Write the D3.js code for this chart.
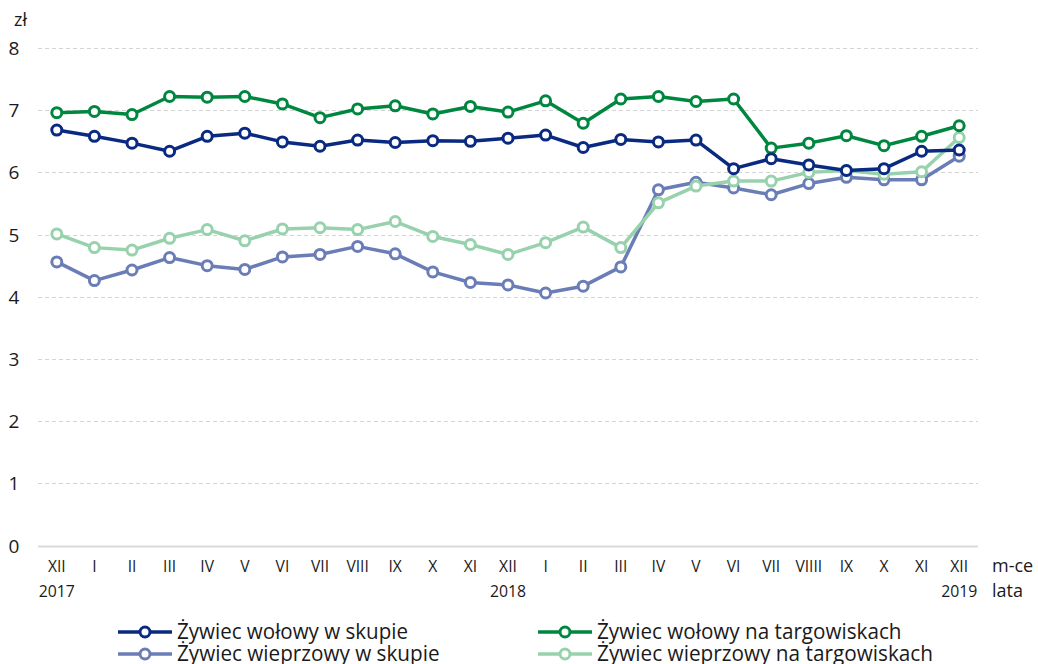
<!DOCTYPE html>
<html>
<head>
<meta charset="utf-8">
<script src="https://cdn.jsdelivr.net/npm/d3@7"></script>
<style>
  body { margin: 0; background: #fff; }
  text { font-family: "Open Sans", "Noto Sans", sans-serif; fill: #1a1a1a; }
</style>
</head>
<body>
<div id="chart"></div>
<script>
// months XII 2017 .. XII 2019
var months = ["XII", "I", "II", "III", "IV", "V", "VI", "VII", "VIII", "IX", "X", "XI", "XII",
              "I", "II", "III", "IV", "V", "VI", "VII", "VIIII", "IX", "X", "XI", "XII"];
var years = {0: "2017", 12: "2018", 24: "2019"};
var yTicks = [0, 1, 2, 3, 4, 5, 6, 7, 8];

var seriesNames = ["Żywiec wołowy w skupie", "Żywiec wołowy na targowiskach",
                   "Żywiec wieprzowy w skupie", "Żywiec wieprzowy na targowiskach"];

var wolowySkup = [6.68, 6.58, 6.47, 6.34, 6.58, 6.63, 6.49, 6.42, 6.52, 6.48, 6.51, 6.50, 6.55,
                  6.60, 6.40, 6.53, 6.49, 6.52, 6.06, 6.22, 6.12, 6.03, 6.06, 6.34, 6.36];
var wolowyTarg = [6.96, 6.98, 6.93, 7.22, 7.21, 7.22, 7.10, 6.88, 7.02, 7.07, 6.94, 7.06, 6.97,
                  7.15, 6.79, 7.18, 7.22, 7.14, 7.18, 6.39, 6.47, 6.59, 6.43, 6.58, 6.75];
var wieprzSkup = [4.56, 4.26, 4.43, 4.63, 4.50, 4.44, 4.64, 4.68, 4.81, 4.69, 4.40, 4.23, 4.19,
                  4.06, 4.17, 4.48, 5.72, 5.84, 5.75, 5.64, 5.82, 5.92, 5.88, 5.88, 6.26];
var wieprzTarg = [5.01, 4.79, 4.75, 4.94, 5.08, 4.90, 5.09, 5.11, 5.08, 5.21, 4.97, 4.84, 4.68,
                  4.87, 5.12, 4.79, 5.51, 5.78, 5.86, 5.86, 6.00, 6.03, 5.97, 6.01, 6.56];

var colors = ["#0a2a82", "#00873f", "#6b7db6", "#97d2ad"];

// order of drawing (back to front)
var series = [
    {name: seriesNames[2], values: wieprzSkup, color: colors[2]},
    {name: seriesNames[3], values: wieprzTarg, color: colors[3]},
    {name: seriesNames[1], values: wolowyTarg, color: colors[1]},
    {name: seriesNames[0], values: wolowySkup, color: colors[0]}
];

var svgWidth = 1038;
var svgHeight = 664;

var svg = d3.select("#chart")
    .append("svg")
    .attr("width", svgWidth)
    .attr("height", svgHeight);

var x = d3.scaleBand()
    .domain(d3.range(months.length))
    .range([38, 978]);

var y = d3.scaleLinear()
    .domain([0, 8])
    .range([545.5, 48]);

var cx = i => x(i) + x.bandwidth() / 2;

// grid lines
svg.append("g").selectAll("line")
    .data(yTicks)
    .enter()
    .append("line")
    .attr("x1", 38)
    .attr("x2", 978)
    .attr("y1", d => Math.round(y(d)) + 0.5)
    .attr("y2", d => Math.round(y(d)) + 0.5)
    .attr("stroke", d => d === 0 ? "#d9d9d9" : "#d4d4d4")
    .attr("stroke-width", d => d === 0 ? 2 : 1)
    .attr("stroke-dasharray", d => d === 0 ? null : "4,3");

// y labels
svg.append("g").selectAll("text")
    .data(yTicks)
    .enter()
    .append("text")
    .attr("x", 14)
    .attr("y", d => y(d) + 7)
    .attr("text-anchor", "middle")
    .attr("font-size", 19)
    .text(d => d);

svg.append("text")
    .attr("x", 14)
    .attr("y", 26)
    .attr("font-size", 18)
    .text("zł");

// x labels
svg.append("g").selectAll("text")
    .data(months)
    .enter()
    .append("text")
    .attr("transform", (d, i) => `translate(${cx(i)}, 572) scale(0.92, 1)`)
    .attr("text-anchor", "middle")
    .attr("font-size", 17)
    .text(d => d);

svg.append("g").selectAll("text")
    .data(Object.keys(years))
    .enter()
    .append("text")
    .attr("transform", d => `translate(${cx(+d)}, 597) scale(0.93, 1)`)
    .attr("text-anchor", "middle")
    .attr("font-size", 17)
    .text(d => years[d]);

svg.append("text").attr("x", 992).attr("y", 572).attr("font-size", 18).text("m-ce");
svg.append("text").attr("x", 992).attr("y", 597).attr("font-size", 18).text("lata");

// lines
var line = d3.line()
    .x((d, i) => cx(i))
    .y(d => y(d));

series.forEach(function (s) {
    var g = svg.append("g");
    g.append("path")
        .datum(s.values)
        .attr("d", line)
        .attr("fill", "none")
        .attr("stroke", s.color)
        .attr("stroke-width", 3.5)
        .attr("stroke-linejoin", "round");
    g.selectAll("circle")
        .data(s.values)
        .enter()
        .append("circle")
        .attr("cx", (d, i) => cx(i))
        .attr("cy", d => y(d))
        .attr("r", 5)
        .attr("fill", "#fff")
        .attr("stroke", s.color)
        .attr("stroke-width", 3);
});

// legend
var legendItems = [
    {name: seriesNames[0], color: colors[0], lx: 118, ly: 632},
    {name: seriesNames[1], color: colors[1], lx: 538, ly: 632},
    {name: seriesNames[2], color: colors[2], lx: 118, ly: 654},
    {name: seriesNames[3], color: colors[3], lx: 538, ly: 654}
];

var legend = svg.append("g").selectAll("g")
    .data(legendItems)
    .enter()
    .append("g")
    .attr("transform", d => `translate(${d.lx}, ${d.ly})`);

legend.append("line")
    .attr("x1", 0).attr("x2", 54)
    .attr("y1", 0).attr("y2", 0)
    .attr("stroke", d => d.color)
    .attr("stroke-width", 3.5);

legend.append("circle")
    .attr("cx", 27).attr("cy", 0).attr("r", 5)
    .attr("fill", "#fff")
    .attr("stroke", d => d.color)
    .attr("stroke-width", 3);

legend.append("text")
    .attr("x", 59)
    .attr("y", 7)
    .attr("font-size", 21)
    .attr("textLength", d => d.name.length * 10.5)
    .attr("lengthAdjust", "spacingAndGlyphs")
    .text(d => d.name);
</script>
</body>
</html>
